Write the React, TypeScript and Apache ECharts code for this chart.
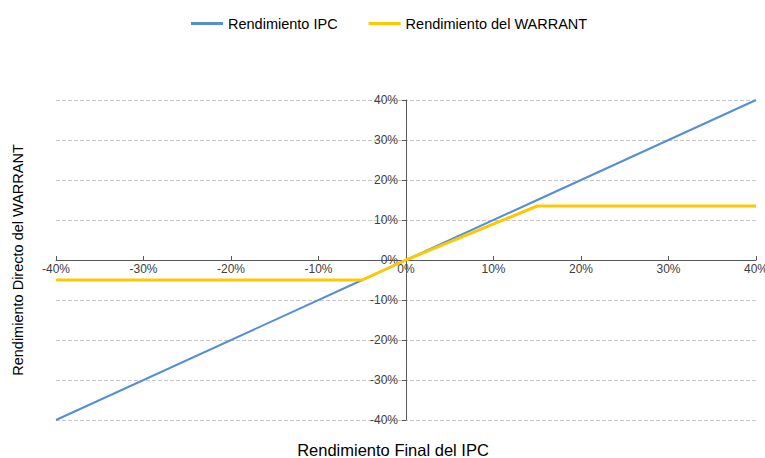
import React, { useEffect, useRef } from "react";
import * as echarts from "echarts";

const ipcReturn: [number, number][] = [
  [-40, -40],
  [-5, -5],
  [0, 0],
  [15, 15],
  [40, 40],
];
const warrantReturn: [number, number][] = [
  [-40, -5],
  [-5, -5],
  [0, 0],
  [15, 13.5],
  [40, 13.5],
];
const seriesNames = ["Rendimiento IPC", "Rendimiento del WARRANT"];
const xTitle = "Rendimiento Final del IPC";
const yTitle = "Rendimiento Directo del WARRANT";

export default function App() {
  const ref = useRef<HTMLDivElement>(null);
  useEffect(() => {
    if (!ref.current) return;
    document.body.style.margin = "0";
    const chart = echarts.init(ref.current, null, { renderer: "svg" });
    const font = "Liberation Sans, Arial, sans-serif";
    chart.setOption({
      animation: false,
      textStyle: { fontFamily: font },
      legend: {
        top: 11,
        left: 186,
        itemWidth: 32,
        itemHeight: 3,
        itemGap: 31,
        icon: "rect",
        textStyle: { fontSize: 14.5, color: "#000", fontFamily: font },
        data: seriesNames,
      },
      grid: {
        left: 56,
        right: 9,
        top: 100,
        bottom: 38,
        containLabel: false,
        outerBoundsMode: "none",
      },
      xAxis: {
        type: "value",
        min: -40,
        max: 40,
        interval: 10,
        position: "bottom",
        offset: -160,
        axisLine: { onZero: false, lineStyle: { color: "#595959", width: 1 } },
        axisTick: { show: true, inside: true, length: 4, lineStyle: { color: "#595959" } },
        axisLabel: {
          formatter: "{value}%",
          color: "#404040",
          fontSize: 12,
          margin: 3,
          fontFamily: font,
        },
        splitLine: { show: false },
      },
      yAxis: {
        type: "value",
        min: -40,
        max: 40,
        interval: 10,
        position: "left",
        offset: -350,
        axisLine: { show: true, onZero: false, lineStyle: { color: "#595959", width: 1 } },
        axisTick: { show: true, inside: false, length: 4, lineStyle: { color: "#595959" } },
        axisLabel: {
          formatter: "{value}%",
          color: "#404040",
          fontSize: 12,
          margin: 8,
          fontFamily: font,
        },
        splitLine: { show: true, lineStyle: { color: "#c8c8c8", type: "dashed", width: 1 } },
      },
      graphic: [
        {
          type: "text",
          x: 393,
          y: 450,
          style: {
            text: xTitle,
            fill: "#000",
            font: `16.5px ${font}`,
            align: "center",
            verticalAlign: "middle",
          },
        },
        {
          type: "text",
          x: 18,
          y: 260,
          rotation: Math.PI / 2,
          style: {
            text: yTitle,
            fill: "#000",
            font: `14.5px ${font}`,
            align: "center",
            verticalAlign: "middle",
          },
        },
      ],
      series: [
        {
          name: seriesNames[0],
          type: "line",
          data: ipcReturn,
          showSymbol: false,
          symbol: "none",
          lineStyle: { color: "#558ED5", width: 2 },
          itemStyle: { color: "#558ED5" },
          z: 2,
        },
        {
          name: seriesNames[1],
          type: "line",
          data: warrantReturn,
          showSymbol: false,
          symbol: "none",
          lineStyle: { color: "#FFC800", width: 3 },
          itemStyle: { color: "#FFC800" },
          z: 3,
        },
      ],
    });
    return () => chart.dispose();
  }, []);
  return (
    <div
      ref={ref}
      style={{ width: 765, height: 458, position: "absolute", left: 0, top: 0 }}
    />
  );
}
